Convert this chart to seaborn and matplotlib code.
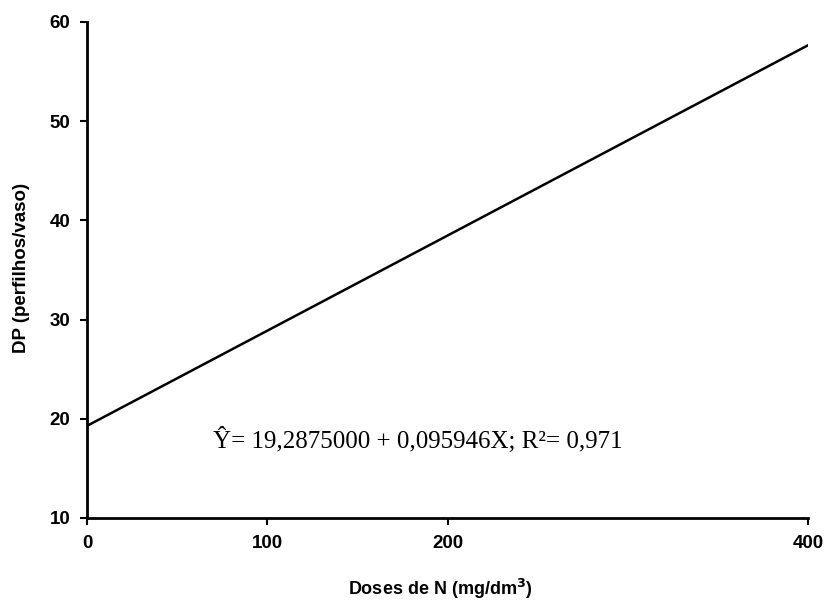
import matplotlib
matplotlib.use("Agg")
import matplotlib.pyplot as plt
import seaborn as sns
import pandas as pd

# Nitrogen doses (mg/dm3) and fitted tiller density (tillers per pot)
doses = [0, 100, 200, 400]
fitted_dp = [19.2875, 28.8821, 38.4767, 57.6659]
x_ticks = [0, 100, 200, 400]
y_ticks = [10, 20, 30, 40, 50, 60]
equation = "Ŷ= 19,2875000 + 0,095946X; R²= 0,971"

sns.set_theme(style="white")
plt.rcParams["font.family"] = ["Liberation Sans", "DejaVu Sans"]
plt.rcParams["text.color"] = "black"
plt.rcParams["axes.labelcolor"] = "black"
plt.rcParams["xtick.color"] = "black"
plt.rcParams["ytick.color"] = "black"

df = pd.DataFrame({"dose": doses, "dp": fitted_dp})

fig = plt.figure(figsize=(8.29, 6.0), dpi=100)
ax = fig.add_axes([0.105, 0.1367, 0.870, 0.8267])

sns.lineplot(data=df, x="dose", y="dp", ax=ax, color="black", linewidth=1.8)

ax.set_xlim(0, 400)
ax.set_ylim(10, 60)
ax.set_xticks(x_ticks)
ax.set_yticks(y_ticks)
ax.tick_params(axis="both", which="major", direction="out", length=5, width=1.5,
               color="black", labelcolor="black", labelsize=13.5, pad=7,
               bottom=True, left=True)
for lbl in ax.get_xticklabels() + ax.get_yticklabels():
    lbl.set_fontweight("bold")

sns.despine(ax=ax)
for side in ("left", "bottom"):
    ax.spines[side].set_color("black")
    ax.spines[side].set_linewidth(2)

ax.set_xlabel("Doses de N (mg/dm$^\\mathbf{3}$)", fontsize=13, fontweight="bold", color="black")
ax.set_ylabel("DP (perfilhos/vaso)", fontsize=13.5, fontweight="bold", color="black")
ax.xaxis.set_label_coords(0.49, -0.119)
ax.yaxis.set_label_coords(-0.079, 0.505)

ax.text(70, 17.9, equation, fontsize=18, va="center", ha="left",
        family=["Liberation Serif", "DejaVu Serif"], color="black")

fig.savefig("out.png", dpi=100, facecolor="white")
